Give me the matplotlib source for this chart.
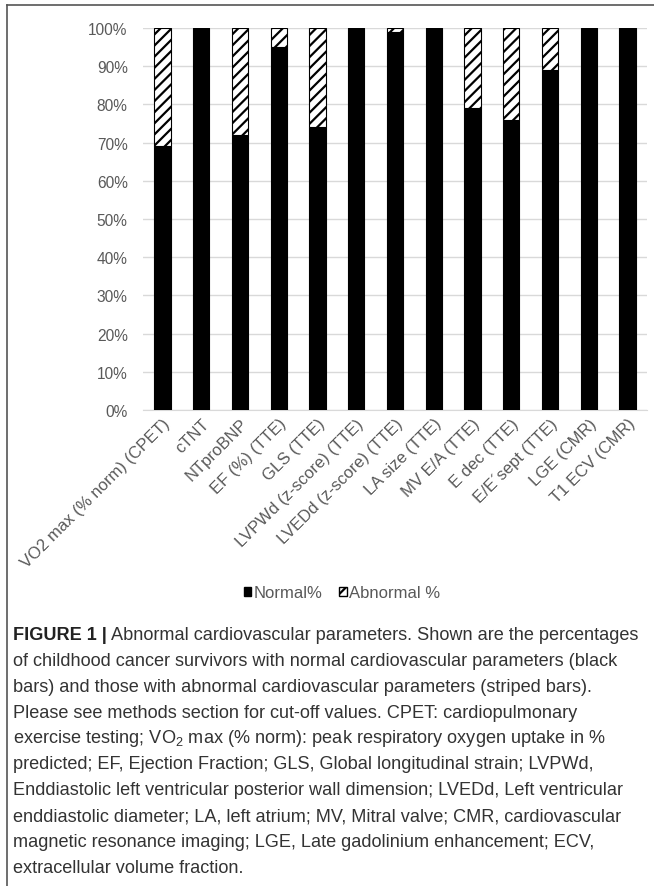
import numpy as np
import matplotlib
matplotlib.use('Agg')
import matplotlib.pyplot as plt
from matplotlib.patches import Patch
from matplotlib.lines import Line2D

plt.rcParams['font.family'] = ['Liberation Sans', 'DejaVu Sans']
plt.rcParams['mathtext.fontset'] = 'custom'
plt.rcParams['mathtext.rm'] = 'Liberation Sans'
plt.rcParams['hatch.linewidth'] = 1.6

# percentages of survivors per parameter
params = ['VO2 max (% norm) (CPET)', 'cTNT', 'NTproBNP', 'EF (%) (TTE)', 'GLS (TTE)',
          'LVPWd (z-score) (TTE)', 'LVEDd (z-score) (TTE)', 'LA size (TTE)',
          'MV E/A (TTE)', 'E dec (TTE)', 'E/E\u00b4sept (TTE)', 'LGE (CMR)', 'T1 ECV (CMR)']
normal = [69, 100, 72, 95, 74, 100, 99, 100, 79, 76, 89, 100, 100]
abnormal = [100 - v for v in normal]
yticks = [0, 10, 20, 30, 40, 50, 60, 70, 80, 90, 100]

caption_head = 'FIGURE 1 |'
caption_first = ' Abnormal cardiovascular parameters. Shown are the percentages'
caption_rest = [
    'of childhood cancer survivors with normal cardiovascular parameters (black',
    'bars) and those with abnormal cardiovascular parameters (striped bars).',
    'Please see methods section for cut-off values. CPET: cardiopulmonary',
    r'exercise testing; VO$_\mathrm{2}$ max (% norm): peak respiratory oxygen uptake in %',
    'predicted; EF, Ejection Fraction; GLS, Global longitudinal strain; LVPWd,',
    'Enddiastolic left ventricular posterior wall dimension; LVEDd, Left ventricular',
    'enddiastolic diameter; LA, left atrium; MV, Mitral valve; CMR, cardiovascular',
    'magnetic resonance imaging; LGE, Late gadolinium enhancement; ECV,',
    'extracellular volume fraction.',
]

W, H = 654, 887
fig = plt.figure(figsize=(W / 100, H / 100), dpi=100)
ax = fig.add_axes([143 / W, 1 - 411 / H, (647 - 143) / W, (411 - 29) / H])

grey = '#595959'
x = np.arange(len(params))
ax.bar(x, normal, width=0.42, color='black', edgecolor='black', linewidth=0.8, zorder=3)
ax.bar(x, abnormal, width=0.42, bottom=normal, color='white', edgecolor='black',
       hatch='///', linewidth=0.8, zorder=3)

ax.set_xlim(-0.5, len(params) - 0.5)
ax.set_ylim(0, 100)
ax.set_yticks(yticks)
ax.set_yticklabels([f'{v}%' for v in yticks])
ax.yaxis.grid(True, color='#d9d9d9', linewidth=1.0, zorder=0)
ax.set_axisbelow(True)
for s in ['top', 'right', 'left']:
    ax.spines[s].set_visible(False)
ax.spines['bottom'].set_color('#d9d9d9')
ax.tick_params(axis='y', length=0, pad=11, labelsize=11.2, labelcolor=grey)
ax.tick_params(axis='x', length=0, pad=4, labelsize=12, labelcolor=grey)
ax.set_xticks(x)
ax.set_xticklabels(params, rotation=45, ha='right', rotation_mode='anchor')

handles = [Patch(facecolor='black', edgecolor='black', label='Normal%'),
           Patch(facecolor='white', edgecolor='black', hatch='///', label='Abnormal %')]
leg = fig.legend(handles=handles, loc='center', bbox_to_anchor=(342 / W, 1 - 594 / H),
                 ncol=2, frameon=False, fontsize=12, handlelength=0.45, handleheight=0.45,
                 handletextpad=0.15, columnspacing=1.0, labelcolor=grey)

# frame lines round the figure
fig.add_artist(Line2D([7 / W, 1], [1 - 6 / H, 1 - 6 / H], color='#555555', linewidth=1.2))
fig.add_artist(Line2D([7 / W, 7 / W], [0, 1 - 6 / H], color='#555555', linewidth=1.2))

# caption
cap_x = 13 / W
y0 = 635
step = 26
fs = 13.1
head = fig.text(cap_x, 1 - y0 / H, caption_head, fontsize=fs, fontweight='bold',
                color='#222222', va='center')
fig.canvas.draw()
bb = head.get_window_extent()
fig.text(bb.x1 / W, 1 - y0 / H, caption_first, fontsize=fs, color='#333333', va='center')
for i, line in enumerate(caption_rest):
    fig.text(cap_x, 1 - (y0 + step * (i + 1)) / H, line, fontsize=fs,
             color='#333333', va='center')

fig.savefig('out.png', dpi=100)
